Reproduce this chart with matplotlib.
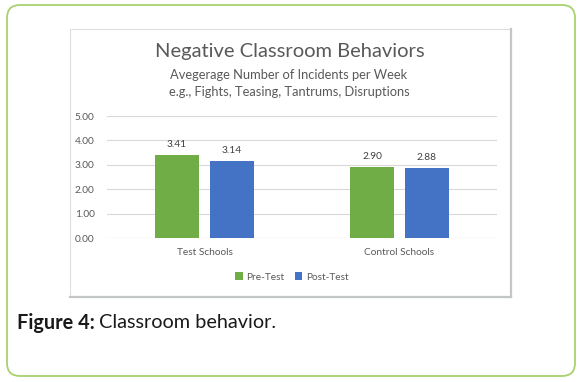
import matplotlib.pyplot as plt
from matplotlib.patches import FancyBboxPatch, Rectangle
import numpy as np

plt.rcParams['font.family'] = ['Lato', 'DejaVu Sans']

# data
schools = ['Test Schools', 'Control Schools']
pre_test = [3.41, 2.90]
post_test = [3.14, 2.88]
y_ticks = [0, 1, 2, 3, 4, 5]

W, H = 584, 382
fig = plt.figure(figsize=(W / 100, H / 100), dpi=100)

# background layer in pixel units
bg = fig.add_axes([0, 0, 1, 1])
bg.set_xlim(0, W)
bg.set_ylim(H, 0)
bg.axis('off')

outer = FancyBboxPatch((7, 5), 568, 371, boxstyle='round,pad=0,rounding_size=13',
                       fc='white', ec='#a8d26e', lw=1.3)
bg.add_patch(outer)
bg.add_patch(Rectangle((70, 29), 441, 268, fc='white', ec='#dedede', lw=0.8))
bg.plot([511, 511], [29, 297], color='#c4c8c4', lw=1.6)
bg.plot([70, 511], [297, 297], color='#c4c8c4', lw=1.6)

bg.text(290, 51, 'Negative Classroom Behaviors', ha='center', va='center',
        fontsize=14.5, color='#595959')
bg.text(289, 75, 'Avegerage Number of Incidents per Week', ha='center', va='center',
        fontsize=9.3, color='#595959')
bg.text(289, 92, 'e.g., Fights, Teasing, Tantrums, Disruptions', ha='center', va='center',
        fontsize=9.3, color='#595959')

# caption: bold part then regular part right after it
cap1 = bg.text(17, 323, 'Figure 4:', ha='left', va='center', fontsize=14.3,
               fontweight='bold', color='#1a1a1a')
fig.canvas.draw()
ext = cap1.get_window_extent()
x_end = bg.transData.inverted().transform((ext.x1, ext.y0))[0]
bg.text(x_end + 4, 323, 'Classroom behavior.', ha='left', va='center', fontsize=14.3,
        color='#1a1a1a')

# chart
ax = fig.add_axes([107 / W, (H - 238) / H, 390 / W, 122 / H])
x = np.arange(len(schools))
bw = 44 / 195
off = 27.5 / 195
b1 = ax.bar(x - off, pre_test, bw, color='#70ad47', label='Pre-Test', zorder=3)
b2 = ax.bar(x + off, post_test, bw, color='#4472c4', label='Post-Test', zorder=3)
for bars, vals in [(b1, pre_test), (b2, post_test)]:
    for r, v in zip(bars, vals):
        ax.text(r.get_x() + r.get_width() / 2, v + 0.25, '%.2f' % v, ha='center', va='bottom',
                fontsize=7.3, color='#404040')

ax.set_xlim(-0.5, 1.5)
ax.set_ylim(0, 5)
ax.set_yticks(y_ticks)
ax.set_yticklabels(['%.2f' % t for t in y_ticks])
ax.set_xticks(x)
ax.set_xticklabels(schools)
ax.yaxis.grid(True, color='#d9d9d9', lw=0.8, zorder=0)
for s in ax.spines.values():
    s.set_visible(False)
ax.axhline(0, color='#d9d9d9', lw=0.8, zorder=2)
ax.tick_params(length=0, labelsize=7.3, colors='#595959')
ax.tick_params(axis='y', pad=9)
ax.tick_params(axis='x', pad=7)
ax.set_facecolor('none')

fig.legend(handles=[b1, b2], labels=['Pre-Test', 'Post-Test'], loc='center',
           bbox_to_anchor=(292 / W, (H - 277) / H), ncol=2, frameon=False, fontsize=7.3,
           handlelength=0.7, handleheight=0.7, handletextpad=0.4, columnspacing=1.0,
           labelcolor='#595959')

fig.savefig('out.png', dpi=100)
